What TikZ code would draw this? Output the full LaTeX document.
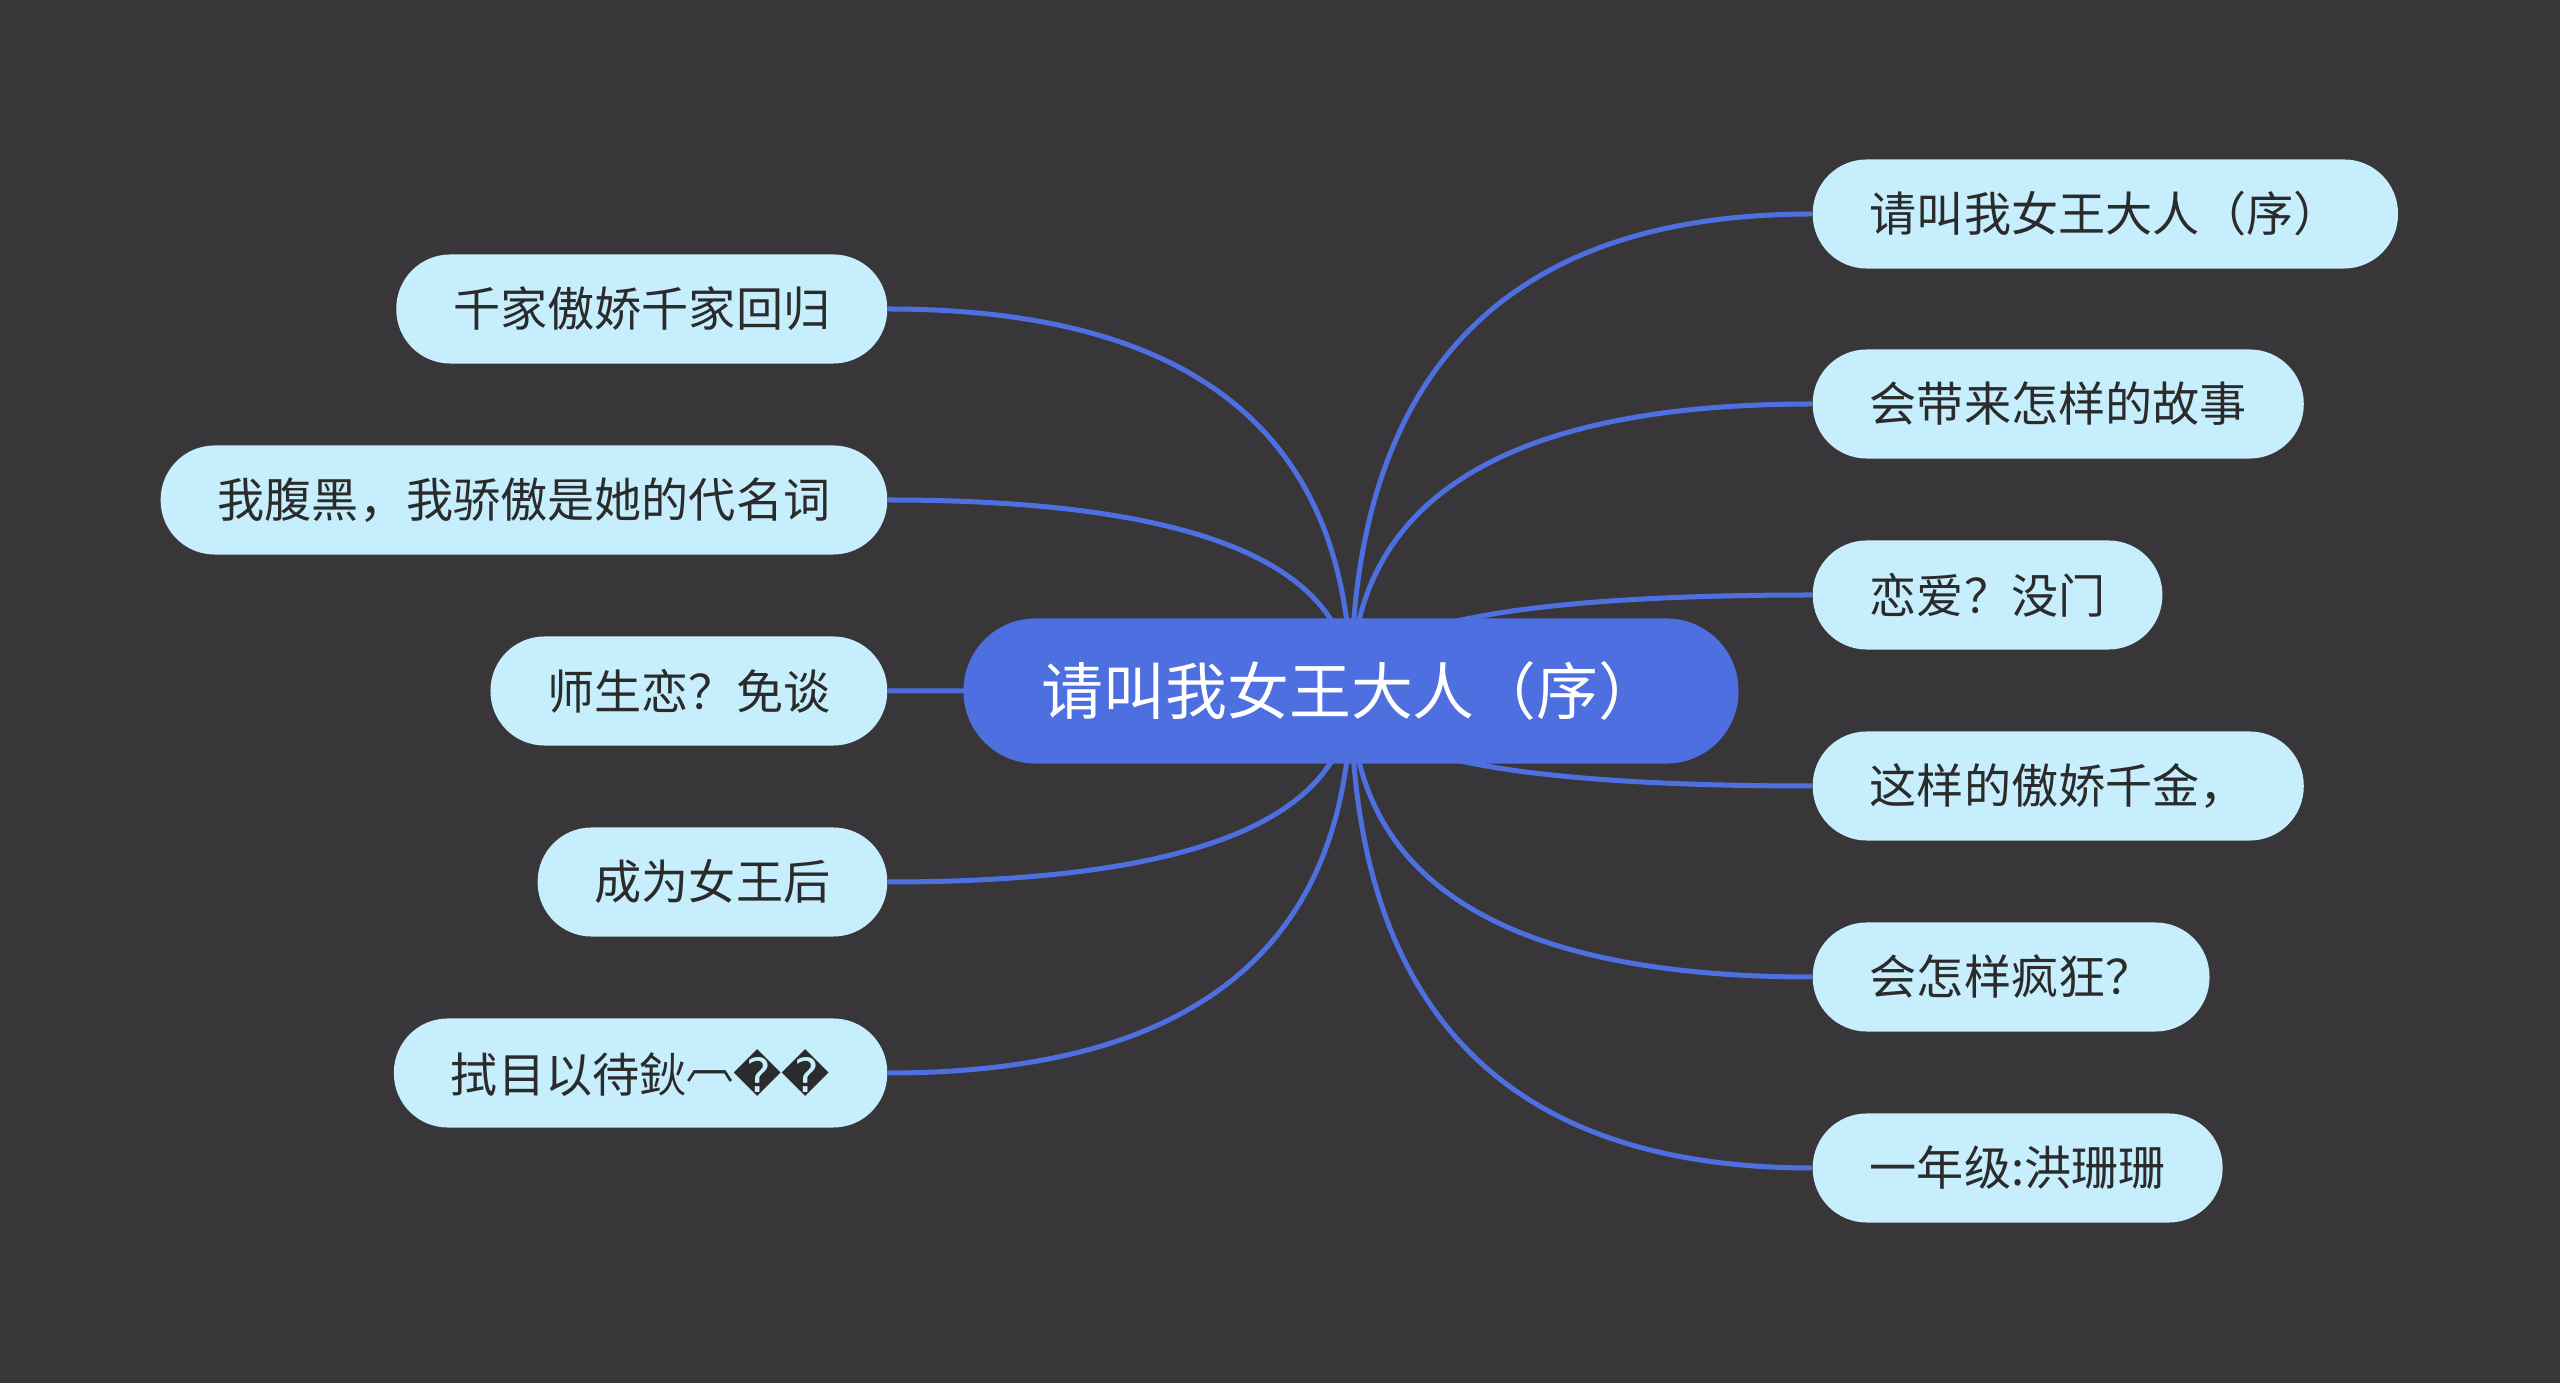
\documentclass[tikz,border=0pt]{standalone}
\usepackage{fontspec}
\newfontfamily\cjk{Noto Sans CJK SC}
\newfontfamily\symb{DejaVu Sans}
\usetikzlibrary{calc}
\pgfdeclarelayer{edges}
\pgfsetlayers{edges,main}
\definecolor{fondgris}{HTML}{383638}
\definecolor{bleuvif}{HTML}{4D6FDF}
\definecolor{bleupale}{HTML}{C6EEFC}
\definecolor{encre}{HTML}{2B2B2B}
\tikzset{
    node style root/.style={fill=bleuvif,text=white,rounded corners=0.72cm,%
        minimum height=1.45cm,inner xsep=0.78cm,%
        font=\cjk\fontsize{17.6pt}{20pt}\selectfont},
    node style kid/.style={fill=bleupale,text=encre,rounded corners=0.54cm,%
        minimum height=1.09cm,inner xsep=0.57cm,%
        font=\cjk\fontsize{13.4pt}{16pt}\selectfont},
    line style/.style={draw=bleuvif,line width=0.05cm},
}

\begin{document}
\begin{tikzpicture}[x=0.01cm,y=-0.01cm]
% le fond
\begin{pgfonlayer}{edges}
\fill[fondgris] (0,0) rectangle (2560,1383);
\end{pgfonlayer}
% le sujet
\node[node style root] (root) at (1351,691) {请叫我女王大人（序）};
% a droite
\node[node style kid,anchor=west] (d1) at (1812,214) {请叫我女王大人（序）};
\node[node style kid,anchor=west] (d2) at (1812,404) {会带来怎样的故事};
\node[node style kid,anchor=west] (d3) at (1812,595) {恋爱？没门};
\node[node style kid,anchor=west] (d4) at (1812,786) {这样的傲娇千金，};
\node[node style kid,anchor=west] (d5) at (1812,977) {会怎样疯狂？};
\node[node style kid,anchor=west] (d6) at (1812,1168) {一年级:洪珊珊};
% a gauche
\node[node style kid,anchor=east] (g1) at (888,309) {千家傲娇千家回归};
\node[node style kid,anchor=east] (g2) at (888,500) {我腹黑，我骄傲是她的代名词};
\node[node style kid,anchor=east] (g3) at (888,691) {师生恋？免谈};
\node[node style kid,anchor=east] (g4) at (888,882) {成为女王后};
\node[node style kid,anchor=east] (g5) at (888,1073) {拭目以待鈥\raisebox{0.3em}{︹}{\symb ��}};
% les branches (courbes quadratiques)
\begin{pgfonlayer}{edges}
\foreach \k in {d1,d2,d3,d4,d5,d6}{
    \coordinate (c) at (root.center |- \k.west);
    \draw[line style] (root.center) .. controls ($(root.center)!2/3!(c)$)
        and ($(\k.west)!2/3!(c)$) .. (\k.west);
}
\foreach \k in {g1,g2,g3,g4,g5}{
    \coordinate (c) at (root.center |- \k.east);
    \draw[line style] (root.center) .. controls ($(root.center)!2/3!(c)$)
        and ($(\k.east)!2/3!(c)$) .. (\k.east);
}
\end{pgfonlayer}
\end{tikzpicture}
\end{document}
